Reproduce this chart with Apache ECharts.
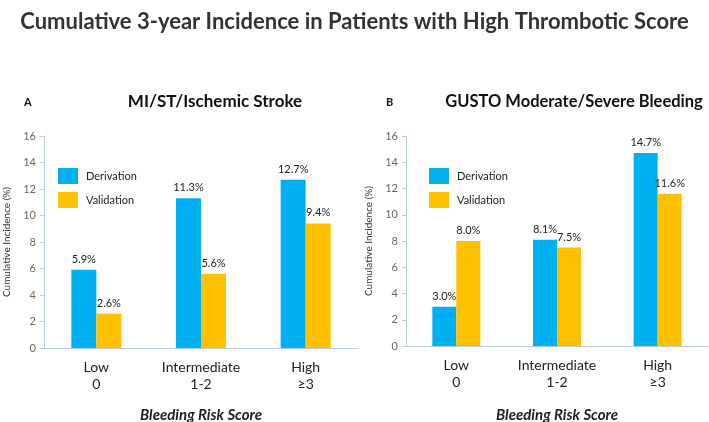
<!doctype html>
<html lang="en">
<head>
    <meta charset="UTF-8">
    <title>Cumulative 3-year Incidence</title>
    <script type="text/javascript" src="https://cdn.jsdelivr.net/npm/echarts@6/dist/echarts.min.js"></script>
    <style>
        body { margin: 0; background: #fff; }
        #main { width: 709px; height: 422px; }
    </style>
</head>
<body>
<div id="main"></div>
<script type="text/javascript">
    // data
    var categories = ['Low\n0', 'Intermediate\n1-2', 'High\n≥3'];
    var ischemicDerivation = [5.9, 11.3, 12.7];
    var ischemicValidation = [2.6, 5.6, 9.4];
    var bleedingDerivation = [3.0, 8.1, 14.7];
    var bleedingValidation = [8.0, 7.5, 11.6];
    var yTicks = { min: 0, max: 16, interval: 2 };

    var font = 'Lato, "Open Sans", sans-serif';
    var blue = '#00b0f0';
    var orange = '#ffc000';

    function xAx(idx, gap) {
        return {
            type: 'category', gridIndex: idx, data: categories,
            axisLine: { lineStyle: { color: '#b9cde5' } },
            axisTick: { show: false },
            axisLabel: { interval: 0, color: '#222', fontSize: 14, fontFamily: font, margin: 11, lineHeight: 17 },
            name: 'Bleeding Risk Score', nameLocation: 'middle', nameGap: gap,
            nameTextStyle: { fontSize: 15, fontStyle: 'italic', fontWeight: 'bold', color: '#222', fontFamily: font }
        };
    }
    function yAx(idx) {
        return {
            type: 'value', gridIndex: idx, min: yTicks.min, max: yTicks.max, interval: yTicks.interval,
            axisLine: { show: true, lineStyle: { color: '#b9cde5' } },
            axisTick: { show: true, length: 4, lineStyle: { color: '#b9cde5' } },
            splitLine: { show: false },
            axisLabel: { color: '#666', fontSize: 11, fontFamily: font, margin: 8 },
            name: 'Cumulative Incidence (%)', nameLocation: 'middle', nameGap: 32,
            nameTextStyle: { fontSize: 10, color: '#333', fontFamily: font }
        };
    }
    function bar(name, data, color, idx, w) {
        return {
            name: name, type: 'bar', xAxisIndex: idx, yAxisIndex: idx, data: data,
            barWidth: w, barGap: '0%',
            itemStyle: { color: color },
            label: {
                show: true, position: 'top', distance: 5,
                color: '#222', fontSize: 11, fontFamily: font,
                formatter: function (p) { return p.value.toFixed(1) + '%'; }
            }
        };
    }
    function legend(left) {
        return {
            orient: 'vertical', left: left, top: 168, padding: 0,
            itemWidth: 20, itemHeight: 16, itemGap: 8,
            icon: 'rect',
            textStyle: { fontSize: 11, color: '#222', fontFamily: font, padding: [0, 0, 0, 3] },
            data: ['Derivation', 'Validation']
        };
    }

    var myChart = echarts.init(document.getElementById('main'));
    var option = {
        animation: false,
        title: [
            { text: 'Cumulative 3-year Incidence in Patients with High Thrombotic Score', left: 'center', top: 6,
              textStyle: { fontSize: 22, fontWeight: 'bold', color: '#333', fontFamily: font } },
            { text: 'MI/ST/Ischemic Stroke', left: 210, top: 88, textAlign: 'center',
              textStyle: { fontSize: 17, fontWeight: 'bold', color: '#111', fontFamily: font } },
            { text: 'GUSTO Moderate/Severe Bleeding', left: 569, top: 88, textAlign: 'center',
              textStyle: { fontSize: 16.5, fontWeight: 'bold', color: '#111', fontFamily: font } },
            { text: 'A', left: 19, top: 92, textStyle: { fontSize: 11, fontWeight: 'bold', color: '#111', fontFamily: font } },
            { text: 'B', left: 381, top: 92, textStyle: { fontSize: 11, fontWeight: 'bold', color: '#111', fontFamily: font } }
        ],
        legend: [legend(58), legend(429)],
        grid: [
            { left: 44, width: 314, top: 136, height: 212, outerBoundsMode: 'none' },
            { left: 406, width: 302, top: 136, height: 210, outerBoundsMode: 'none' }
        ],
        xAxis: [xAx(0, 60), xAx(1, 62)],
        yAxis: [yAx(0), yAx(1)],
        series: [
            bar('Derivation', ischemicDerivation, blue, 0, 25),
            bar('Validation', ischemicValidation, orange, 0, 25),
            bar('Derivation', bleedingDerivation, blue, 1, 24),
            bar('Validation', bleedingValidation, orange, 1, 24)
        ]
    };
    myChart.setOption(option);
</script>
</body>
</html>
